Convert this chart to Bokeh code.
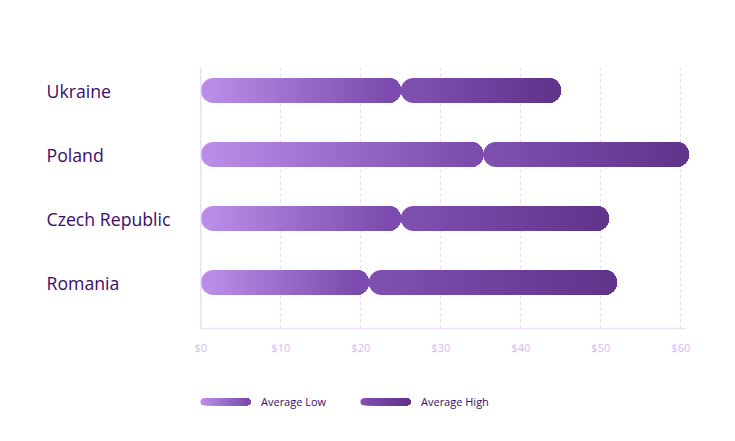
import math
from bokeh.plotting import figure
from bokeh.models import Range1d, FixedTicker, Span
from bokeh.layouts import column
from bokeh.embed import file_html
from bokeh.resources import INLINE
from bokeh.core.properties import value

# ---------------- data ----------------
countries = ["Ukraine", "Poland", "Czech Republic", "Romania"]
avg_low = [25, 35.3, 25, 21]
avg_high = [45, 61, 51, 52]
tick_values = [0, 10, 20, 30, 40, 50, 60]
tick_labels = ["$0", "$10", "$20", "$30", "$40", "$50", "$60"]
series_names = ["Average Low", "Average High"]

# ---------------- style ----------------
LOW_START, LOW_END = "#b98ce6", "#7b4cad"
HIGH_START, HIGH_END = "#7f50b0", "#62358d"
TEXT = "#3a0c6a"
TICK = "#d6baf5"
GRID = "#e6d6fb"
AXIS = "#ebdffc"
FONT = "Open Sans"

W = 735
H_MAIN = 368
H_LEG = 73
FRAME_L, FRAME_W = 45, 650
FRAME_T, FRAME_H = 67, 261
PX = 8.0            # pixels per dollar
ZERO_OFF = 155.3    # px from frame left to $0
ROW_PX = 64.0
BAR_PX = 25.0
N_SLICES = 40

x_start = -ZERO_OFF / PX
x_end = x_start + FRAME_W / PX
n = len(countries)
ys = [n - 1 - i for i in range(n)]
y_start = -46.0 / ROW_PX
y_end = (n - 1) + 23.0 / ROW_PX


def hex2rgb(h):
    h = h.lstrip("#")
    return tuple(int(h[i:i + 2], 16) for i in (0, 2, 4))


def mix(c0, c1, t):
    a, b = hex2rgb(c0), hex2rgb(c1)
    return "#%02x%02x%02x" % tuple(round(a[i] + (b[i] - a[i]) * t) for i in range(3))


def gradient_bars(fig, yv, lefts, rights, c0, c1, h_data, h_px, r_data):
    rad = int(math.ceil(h_px / 2))
    fig.hbar(y=yv, left=lefts, right=rights, height=h_data, fill_color=c0,
             line_color=None, border_radius=rad)
    sy, sl, sr, sc = [], [], [], []
    for k in range(1, N_SLICES + 1):
        t = k / N_SLICES
        for yy, l, r in zip(yv, lefts, rights):
            inner = (r - l) - 2 * r_data
            sy.append(yy)
            sl.append(l + r_data + inner * (k - 1) / N_SLICES)
            sr.append(r)
            sc.append(mix(c0, c1, t))
    fig.hbar(y=sy, left=sl, right=sr, height=h_data, fill_color=sc,
             line_color=None, border_radius=(0, rad, rad, 0))


# ---------------- main chart ----------------
p = figure(width=W, height=H_MAIN, output_backend="svg", toolbar_location=None,
           x_range=Range1d(x_start, x_end), y_range=Range1d(y_start, y_end),
           y_axis_type=None,
           min_border_left=FRAME_L, min_border_right=W - FRAME_L - FRAME_W,
           min_border_top=FRAME_T, min_border_bottom=H_MAIN - FRAME_T - FRAME_H)
p.outline_line_color = None
p.background_fill_color = "white"
p.border_fill_color = "white"

ax = p.xaxis[0]
ax.ticker = FixedTicker(ticks=tick_values)
ax.major_label_overrides = dict(zip(tick_values, tick_labels))
ax.bounds = (0, 60.65)
ax.axis_line_color = AXIS
ax.axis_line_width = 1.5
ax.major_tick_line_color = None
ax.minor_tick_line_color = None
ax.major_label_standoff = 5
ax.major_label_text_color = TICK
ax.major_label_text_font = FONT
ax.major_label_text_font_size = "11px"

p.ygrid.grid_line_color = None
p.xgrid.ticker = FixedTicker(ticks=tick_values[1:])
p.xgrid.grid_line_color = GRID
p.xgrid.grid_line_dash = "3 3"
p.xgrid.grid_line_width = 1

p.add_layout(Span(location=0, dimension="height", line_color=AXIS, line_width=1.5))

h_data = BAR_PX / ROW_PX
r_data = (BAR_PX / 2) / PX
gradient_bars(p, ys, [0] * n, avg_low, LOW_START, LOW_END, h_data, BAR_PX, r_data)
gradient_bars(p, ys, avg_low, avg_high, HIGH_START, HIGH_END, h_data, BAR_PX, r_data)

p.text(x=[x_start + 1.0 / PX] * n, y=ys, text=countries, text_align="left",
       text_baseline="middle", text_font=value(FONT), text_font_size="17.7px",
       text_color=TEXT)

# ---------------- legend (x in page pixels, frame aligned with chart) ----------------
leg = figure(width=W, height=H_LEG, output_backend="svg", toolbar_location=None,
             x_range=Range1d(FRAME_L, FRAME_L + FRAME_W), y_range=Range1d(0, H_LEG),
             x_axis_type=None, y_axis_type=None,
             min_border_left=FRAME_L, min_border_right=W - FRAME_L - FRAME_W,
             min_border_top=0, min_border_bottom=0)
leg.outline_line_color = None
leg.grid.grid_line_color = None
leg.background_fill_color = "white"
leg.border_fill_color = "white"

LEG_Y = 39.8
SW_PX = 7.0
sw_lefts = [200, 360]
SW_LEN = 50
TXT_GAP = 10.5
leg_colors = [(LOW_START, LOW_END), (HIGH_START, HIGH_END)]
for name, l, (c0, c1) in zip(series_names, sw_lefts, leg_colors):
    gradient_bars(leg, [LEG_Y], [l], [l + SW_LEN], c0, c1, SW_PX, SW_PX, SW_PX / 2)
    leg.text(x=[l + SW_LEN + TXT_GAP], y=[LEG_Y], text=[name], text_align="left",
             text_baseline="middle", text_font=value(FONT), text_font_size="11px",
             text_color=TEXT)

layout = column(p, leg, spacing=0)
open("out.html", "w").write(file_html(layout, INLINE))
